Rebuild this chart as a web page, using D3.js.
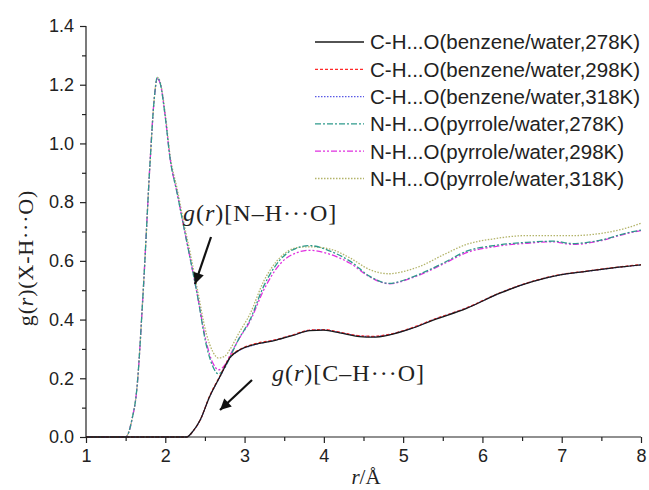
<!DOCTYPE html>
<html><head><meta charset="utf-8">
<script src="https://cdn.jsdelivr.net/npm/d3@7"></script>
<style>body{margin:0;background:#fff}svg{display:block}</style>
</head><body>
<svg id="c" width="649" height="490"></svg>
<script>
// ---- data ----
const seriesNames = [
  "C-H...O(benzene/water,278K)",
  "C-H...O(benzene/water,298K)",
  "C-H...O(benzene/water,318K)",
  "N-H...O(pyrrole/water,278K)",
  "N-H...O(pyrrole/water,298K)",
  "N-H...O(pyrrole/water,318K)"
];
const rCH = [1.0, 2.27, 2.35, 2.44, 2.56, 2.69, 2.82, 2.94, 3.11, 3.40, 3.60, 3.82, 4.00, 4.20, 4.45, 4.62, 4.83, 5.09, 5.38, 5.80, 6.22, 6.64, 6.98, 7.31, 7.65, 8.0];
const gCH278 = [0, 0, 0.02, 0.058, 0.138, 0.206, 0.272, 0.297, 0.314, 0.330, 0.345, 0.362, 0.364, 0.355, 0.342, 0.340, 0.348, 0.368, 0.398, 0.438, 0.490, 0.530, 0.552, 0.564, 0.576, 0.586];
const gCH298 = [0, 0, 0.02, 0.058, 0.140, 0.208, 0.274, 0.298, 0.316, 0.332, 0.347, 0.364, 0.366, 0.357, 0.345, 0.343, 0.350, 0.370, 0.400, 0.440, 0.491, 0.531, 0.553, 0.565, 0.577, 0.587];
const gCH318 = [0, 0, 0.02, 0.057, 0.137, 0.205, 0.271, 0.296, 0.313, 0.331, 0.346, 0.363, 0.365, 0.356, 0.344, 0.342, 0.349, 0.369, 0.399, 0.439, 0.490, 0.530, 0.552, 0.564, 0.576, 0.586];
const rNH = [1.0, 1.5, 1.53, 1.58, 1.64, 1.72, 1.81, 1.86, 1.90, 1.94, 2.00, 2.06, 2.15, 2.23, 2.32, 2.40, 2.52, 2.60, 2.67, 2.75, 2.82, 2.92, 3.07, 3.24, 3.45, 3.66, 3.82, 4.08, 4.33, 4.58, 4.83, 4.96, 5.09, 5.21, 5.51, 5.80, 6.14, 6.56, 6.89, 7.14, 7.48, 7.82, 8.0];
const gNH278 = [0, 0, 0.01, 0.06, 0.16, 0.49, 0.945, 1.15, 1.225, 1.20, 1.09, 0.95, 0.83, 0.72, 0.60, 0.49, 0.31, 0.24, 0.215, 0.235, 0.275, 0.33, 0.40, 0.513, 0.604, 0.644, 0.652, 0.633, 0.599, 0.547, 0.523, 0.530, 0.542, 0.555, 0.593, 0.633, 0.652, 0.663, 0.667, 0.659, 0.670, 0.695, 0.705];
const gNH298 = [0, 0, 0.01, 0.06, 0.16, 0.49, 0.945, 1.15, 1.22, 1.20, 1.09, 0.95, 0.83, 0.72, 0.60, 0.49, 0.32, 0.252, 0.229, 0.245, 0.28, 0.33, 0.395, 0.50, 0.59, 0.628, 0.636, 0.622, 0.592, 0.545, 0.522, 0.528, 0.540, 0.552, 0.590, 0.628, 0.648, 0.660, 0.665, 0.656, 0.668, 0.693, 0.703];
const gNH318 = [0, 0, 0.01, 0.06, 0.16, 0.49, 0.945, 1.15, 1.225, 1.205, 1.10, 0.96, 0.845, 0.735, 0.62, 0.51, 0.35, 0.29, 0.269, 0.275, 0.30, 0.35, 0.42, 0.53, 0.612, 0.645, 0.648, 0.64, 0.61, 0.57, 0.556, 0.561, 0.570, 0.581, 0.621, 0.656, 0.675, 0.686, 0.686, 0.686, 0.693, 0.712, 0.728];
const xTicks = [1, 2, 3, 4, 5, 6, 7, 8];
const yTicks = [0.0, 0.2, 0.4, 0.6, 0.8, 1.0, 1.2, 1.4];

// ---- styles ----
const styles = [
  {color: "#1a1a1a", dash: null},
  {color: "#ff2a2a", dash: "3,2"},
  {color: "#5a5ae6", dash: "1.5,1.5"},
  {color: "#2e9a8c", dash: "6,2,2,2"},
  {color: "#e030e0", dash: "6,2,2,2,2,2"},
  {color: "#b3b46a", dash: "1.5,1.5"}
];
const seriesR = [rCH, rCH, rCH, rNH, rNH, rNH];
const seriesG = [gCH278, gCH298, gCH318, gNH278, gNH298, gNH318];

const svg = d3.select("#c");
const x = d3.scaleLinear().domain([1, 8]).range([86, 641]);
const y = d3.scaleLinear().domain([0, 1.4]).range([437, 26]);

const line = d3.line().x(d => x(d[0])).y(d => y(d[1])).curve(d3.curveMonotoneX);
const drawOrder = [5, 4, 3, 2, 1, 0];
drawOrder.forEach(i => {
  const pts = seriesR[i].map((r, k) => [r, seriesG[i][k]]);
  svg.append("path").attr("d", line(pts)).attr("fill", "none")
    .attr("stroke", styles[i].color).attr("stroke-width", 1.3)
    .attr("stroke-dasharray", styles[i].dash);
});

// axes
const tickFont = "'Liberation Sans', Arial, sans-serif";
const serif = "'Liberation Serif', 'Times New Roman', serif";
const xAxis = d3.axisBottom(x).tickValues(xTicks).tickFormat(d3.format("d")).tickSize(6).tickPadding(6);
const gx = svg.append("g").attr("transform", "translate(0,437)").call(xAxis);
const xMinor = d3.axisBottom(x).tickValues(d3.range(1.5, 8, 1)).tickFormat("").tickSize(4);
svg.append("g").attr("transform", "translate(0,437)").call(xMinor).select(".domain").remove();
const yAxis = d3.axisLeft(y).tickValues(yTicks).tickFormat(d3.format(".1f")).tickSize(6).tickPadding(6);
const gy = svg.append("g").attr("transform", "translate(86,0)").call(yAxis);
const yMinor = d3.axisLeft(y).tickValues(d3.range(0.1, 1.4, 0.2)).tickFormat("").tickSize(4);
svg.append("g").attr("transform", "translate(86,0)").call(yMinor).select(".domain").remove();
gx.select(".domain").attr("d", "M86,0H641");
gy.select(".domain").attr("d", "M0,437V26");
svg.selectAll(".domain, .tick line").attr("stroke", "#222").attr("stroke-width", 1.2);
svg.selectAll(".tick text").attr("font-family", tickFont).attr("font-size", 18).attr("fill", "#222");

// axis titles
const yl = svg.append("text").attr("transform", "translate(33,258) rotate(-90)")
  .attr("text-anchor", "middle").attr("font-family", serif)
  .attr("font-size", 22).attr("letter-spacing", 0.8).attr("fill", "#222");
yl.append("tspan").text("g(");
yl.append("tspan").attr("font-style", "italic").text("r");
yl.append("tspan").text(")(X-H\u00b7\u00b7\u00b7O)");

const xl = svg.append("text").attr("x", 366).attr("y", 484).attr("text-anchor", "middle")
  .attr("font-family", serif).attr("font-size", 21).attr("fill", "#222");
xl.append("tspan").attr("font-style", "italic").text("r");
xl.append("tspan").text("/\u00c5");

// legend
const lg = svg.append("g");
seriesNames.forEach((name, i) => {
  const yy = 42 + i * 27.3;
  lg.append("line").attr("x1", 315).attr("x2", 364).attr("y1", yy).attr("y2", yy)
    .attr("stroke", styles[i].color).attr("stroke-width", 1.3).attr("stroke-dasharray", styles[i].dash);
  lg.append("text").attr("x", 370).attr("y", yy).attr("dy", "0.36em")
    .attr("font-family", tickFont).attr("font-size", 20.5).attr("fill", "#222").text(name);
});

// annotations
function annot(tx, ty, label) {
  const t = svg.append("text").attr("x", tx).attr("y", ty)
    .attr("font-family", serif).attr("font-size", 24)
    .attr("letter-spacing", 1).attr("fill", "#222");
  t.append("tspan").attr("font-style", "italic").text("g");
  t.append("tspan").text("(");
  t.append("tspan").attr("font-style", "italic").text("r");
  t.append("tspan").text(")[" + label + "\u2013H\u00b7\u00b7\u00b7O]");
}
annot(183, 221, "N");
annot(272, 381, "C");

svg.append("defs").append("marker").attr("id", "ah").attr("viewBox", "0 0 10 10")
  .attr("refX", 10).attr("refY", 5).attr("markerWidth", 6).attr("markerHeight", 5)
  .attr("markerUnits", "strokeWidth").attr("orient", "auto")
  .append("path").attr("d", "M0,0L10,5L0,10Z").attr("fill", "#111");
function arrow(x1, y1, x2, y2) {
  svg.append("line").attr("x1", x1).attr("y1", y1).attr("x2", x2).attr("y2", y2)
    .attr("stroke", "#111").attr("stroke-width", 2.2).attr("marker-end", "url(#ah)");
}
arrow(211, 237, 195, 284);
arrow(252, 380, 220, 410);
</script>
</body></html>
